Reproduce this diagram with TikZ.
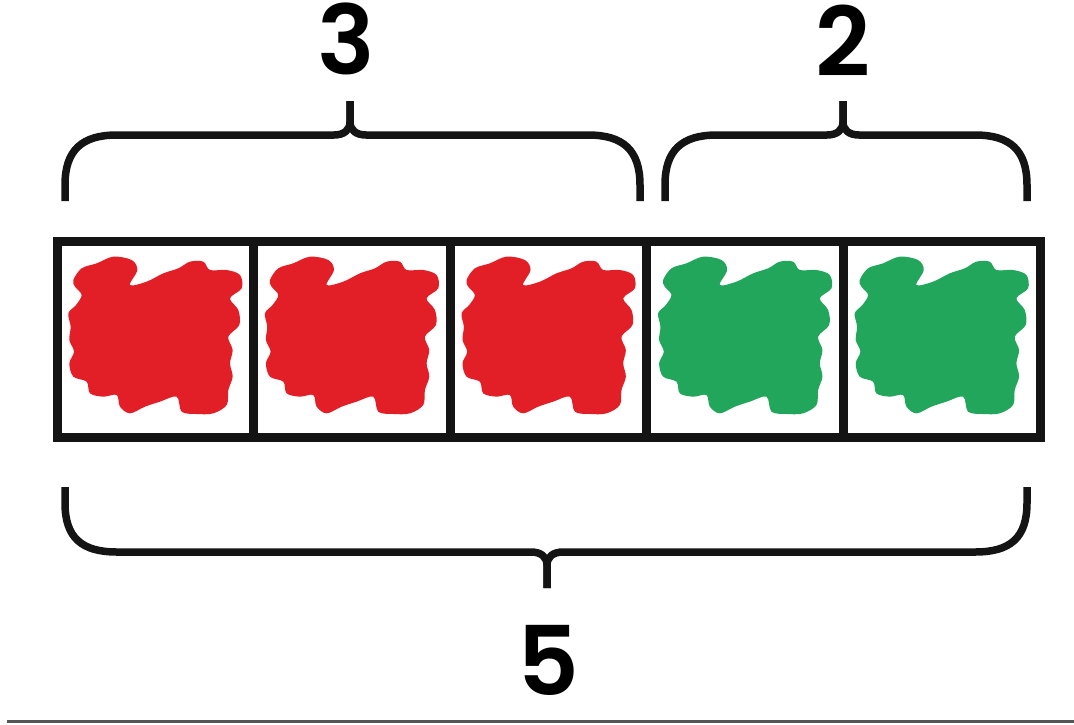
\documentclass[tikz,border=0pt]{standalone}
\usepackage{fontspec}
\newfontfamily\numfont{Poppins SemiBold}
\definecolor{blobred}{HTML}{E21F26}
\definecolor{blobgreen}{HTML}{21A65B}
\definecolor{rulegray}{HTML}{555555}
\tikzset{
  cellframe/.style={line width=9pt, draw=black!92},
  bracket/.style={line width=7.5pt, draw=black!92, line cap=butt, line join=round},
  count/.style={font=\numfont\fontsize{96}{96}\selectfont, inner sep=0pt, anchor=base},
}
% one scribbled blob, in a 3x local grid
\newcommand\scribble[3]{%
  \begin{scope}[shift={(#1,#2)}, scale=1/3]
    \fill[#3] plot[smooth cycle, tension=0.55] coordinates {
      (70,150) (95,115) (140,100) (190,80) (245,90) (262,120) (240,165)
      (290,155) (340,130) (385,115) (420,95) (460,95) (480,120) (530,120)
      (570,135) (575,175) (540,205) (565,240) (568,285) (535,320) (548,360)
      (540,400) (548,440) (535,480) (530,525) (490,550) (440,552) (395,545)
      (380,500) (330,515) (285,530) (240,550) (210,530) (200,495) (160,500)
      (120,490) (110,455) (70,440) (58,400) (72,365) (58,330) (62,290)
      (55,250) (78,225) (95,195) (75,170)};
  \end{scope}}
\begin{document}
\begin{tikzpicture}[x=1pt, y=-1pt]
  \useasboundingbox (0,0) rectangle (1074,724);

  % coloured scribbles
  \scribble{50}{230}{blobred}
  \scribble{246.6}{230}{blobred}
  \scribble{443.2}{230}{blobred}
  \scribble{639.8}{230}{blobgreen}
  \scribble{836.4}{230}{blobgreen}

  % strip of five cells
  \draw[cellframe] (57,241) rectangle (1040,437);
  \foreach \x in {253.6,450.2,646.8,843.4}
    \draw[cellframe] (\x,241) -- (\x,437);

  % upper brace over the first three cells
  \draw[bracket] (65,201) -- (65,185) .. controls (65,150) and (82,135) .. (117,135) -- (334,135)
    .. controls (344,135) and (350,130) .. (350,122) -- (350,101);
  \draw[bracket] (640,201) -- (640,185) .. controls (640,150) and (623,135) .. (588,135) -- (366,135)
    .. controls (356,135) and (350,130) .. (350,122) -- (350,101);

  % upper brace over the last two cells
  \draw[bracket] (665,201) -- (665,185) .. controls (665,150) and (682,135) .. (717,135) -- (827,135)
    .. controls (837,135) and (843,130) .. (843,122) -- (843,101);
  \draw[bracket] (1027,201) -- (1027,185) .. controls (1027,150) and (1010,135) .. (975,135) -- (859,135)
    .. controls (849,135) and (843,130) .. (843,122) -- (843,101);

  % lower brace under all five cells
  \draw[bracket] (65,487) -- (65,503) .. controls (65,538) and (82,552) .. (117,552) -- (531,552)
    .. controls (541,552) and (547,557) .. (547,565) -- (547,588);
  \draw[bracket] (1027,487) -- (1027,503) .. controls (1027,538) and (1010,552) .. (975,552) -- (563,552)
    .. controls (553,552) and (547,557) .. (547,565) -- (547,588);

  % counts
  \node[count] (three) at (346,74) {3};
  \node[count] (two) at (843,76) {2};
  \node[count] (five) at (548,695) {5};

  % closing rule
  \draw[rulegray, line width=3pt] (7,721) -- (1074,721);
\end{tikzpicture}
\end{document}
